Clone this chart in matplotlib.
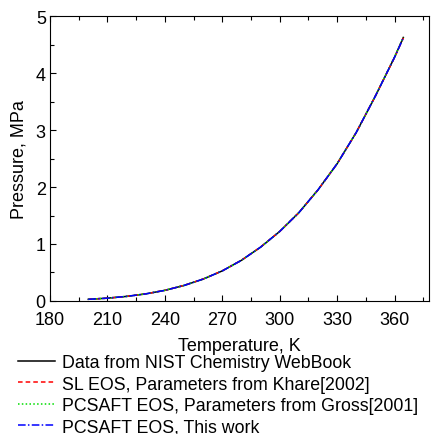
import matplotlib
matplotlib.use("Agg")
import matplotlib.pyplot as plt
from matplotlib.ticker import MultipleLocator

plt.rcParams['font.family'] = ['Liberation Sans', 'DejaVu Sans']

# saturation temperature (K) and vapour pressure (MPa)
temp = [200, 210, 220, 230, 240, 250, 260, 270, 280, 290,
        300, 310, 320, 330, 340, 350, 360, 364.6]
p_nist = [0.028, 0.048, 0.079, 0.123, 0.185, 0.271, 0.383, 0.527, 0.713, 0.944,
          1.22, 1.55, 1.95, 2.41, 2.96, 3.60, 4.28, 4.63]
p_sl = [0.028, 0.048, 0.079, 0.123, 0.186, 0.272, 0.384, 0.528, 0.714, 0.945,
        1.22, 1.55, 1.95, 2.41, 2.96, 3.60, 4.28, 4.62]
p_gross = [0.028, 0.048, 0.079, 0.124, 0.186, 0.271, 0.383, 0.527, 0.712, 0.943,
           1.22, 1.55, 1.95, 2.41, 2.96, 3.60, 4.29, 4.63]
p_this = [0.028, 0.048, 0.079, 0.123, 0.185, 0.271, 0.383, 0.527, 0.713, 0.944,
          1.22, 1.55, 1.95, 2.41, 2.96, 3.60, 4.28, 4.62]

labels = ["Data from NIST Chemistry WebBook",
          "SL EOS, Parameters from Khare[2002]",
          "PCSAFT EOS, Parameters from Gross[2001]",
          "PCSAFT EOS, This work"]

fig = plt.figure(figsize=(4.32, 4.35), dpi=100)
ax = fig.add_axes([0.1157, 0.306, 0.8773, 0.654])

ax.plot(temp, p_nist, color='black', linestyle='-', linewidth=1.1, label=labels[0])
ax.plot(temp, p_sl, color='red', linestyle=(0, (3, 2)), linewidth=1.1, label=labels[1])
ax.plot(temp, p_gross, color='#00dd00', linestyle=(0, (1, 1.5)), linewidth=1.1, label=labels[2])
ax.plot(temp, p_this, color='blue', linestyle=(0, (5, 1.5, 1, 1.5)), linewidth=1.1, label=labels[3])

ax.set_xlim(180, 378)
ax.set_ylim(0, 5)
ax.xaxis.set_major_locator(MultipleLocator(30))
ax.xaxis.set_minor_locator(MultipleLocator(15))
ax.yaxis.set_major_locator(MultipleLocator(1))
ax.yaxis.set_minor_locator(MultipleLocator(0.5))
ax.tick_params(which='both', direction='in', top=True, right=False, labelsize=13)
ax.tick_params(axis='x', pad=7)
ax.tick_params(axis='y', pad=3)
ax.tick_params(which='major', length=4, width=0.8)
ax.tick_params(which='minor', length=3, width=0.8)

ax.set_xlabel("Temperature, K", fontsize=13, labelpad=7)
ax.set_ylabel("Pressure, MPa", fontsize=13, labelpad=6)

ax.legend(loc='upper left', bbox_to_anchor=(-0.104, -0.162), frameon=False,
          fontsize=12.8, handlelength=2.1, handletextpad=0.4, labelspacing=0.25,
          borderaxespad=0)

plt.savefig("out.png", dpi=100)
